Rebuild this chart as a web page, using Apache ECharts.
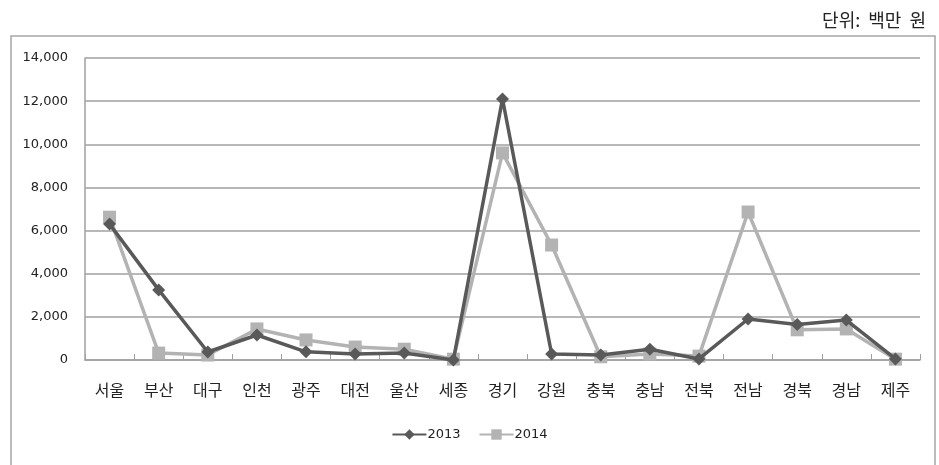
<!DOCTYPE html>
<html>
<head>
<meta charset="utf-8">
<script src="https://cdn.jsdelivr.net/npm/echarts@6/dist/echarts.min.js"></script>
<style>
  html, body { margin: 0; padding: 0; background: #fff; }
  #chart { width: 939px; height: 465px; }
</style>
</head>
<body>
<div id="chart"></div>
<script>
var regions = ['서울', '부산', '대구', '인천', '광주', '대전', '울산', '세종', '경기', '강원', '충북', '충남', '전북', '전남', '경북', '경남', '제주'];
var values2013 = [6300, 3250, 370, 1160, 380, 280, 320, 0, 12100, 280, 230, 500, 50, 1900, 1650, 1850, 50];
var values2014 = [6620, 320, 230, 1440, 930, 600, 500, 40, 9600, 5330, 150, 280, 180, 6860, 1400, 1440, 40];
var yTicks = { min: 0, max: 14000, interval: 2000 };

var myChart = echarts.init(document.getElementById('chart'));
var labelFont = 'Tahoma, "DejaVu Sans", "Liberation Sans", sans-serif';
var krFont = '"Noto Sans CJK KR", sans-serif';

myChart.setOption({
    animation: false,
    title: {
        text: '단위:  백만  원',
        right: 8,
        top: 6,
        textStyle: { fontFamily: krFont, fontSize: 18, fontWeight: 'normal', color: '#222' }
    },
    graphic: [{
        type: 'rect',
        shape: { x: 11, y: 36, width: 924, height: 460 },
        style: { fill: 'none', stroke: '#a6a6a6', lineWidth: 1.5 },
        silent: true
    }],
    legend: {
        bottom: 19,
        left: 'center',
        itemWidth: 34,
        itemHeight: 13,
        itemGap: 18,
        textStyle: { fontFamily: labelFont, fontSize: 13, color: '#222', padding: [0, 0, 0, -4] },
        data: ['2013', '2014']
    },
    grid: { left: 85, right: 19, top: 58, bottom: 105 },
    xAxis: {
        type: 'category',
        data: regions,
        boundaryGap: true,
        axisLine: { lineStyle: { color: '#a0a0a0', width: 1.5 } },
        axisTick: { show: true, inside: true, length: 6, lineStyle: { color: '#a0a0a0' } },
        axisLabel: { fontFamily: krFont, fontSize: 16, color: '#222', margin: 22 }
    },
    yAxis: {
        type: 'value',
        min: yTicks.min,
        max: yTicks.max,
        interval: yTicks.interval,
        axisLine: { show: true, lineStyle: { color: '#a0a0a0', width: 1.5 } },
        axisTick: { show: false },
        splitLine: { lineStyle: { color: '#a0a0a0', width: 1.5 } },
        axisLabel: {
            fontFamily: labelFont, fontSize: 13, color: '#222', margin: 17,
            formatter: function (val) { return val.toLocaleString('en-US'); }
        }
    },
    series: [
        {
            name: '2013',
            type: 'line',
            data: values2013,
            symbol: 'diamond',
            symbolSize: 13,
            lineStyle: { color: '#595959', width: 3.5 },
            itemStyle: { color: '#595959' },
            z: 3
        },
        {
            name: '2014',
            type: 'line',
            data: values2014,
            symbol: 'rect',
            symbolSize: 13,
            lineStyle: { color: '#b3b3b3', width: 3.5 },
            itemStyle: { color: '#b3b3b3' },
            z: 2
        }
    ]
});
</script>
</body>
</html>
